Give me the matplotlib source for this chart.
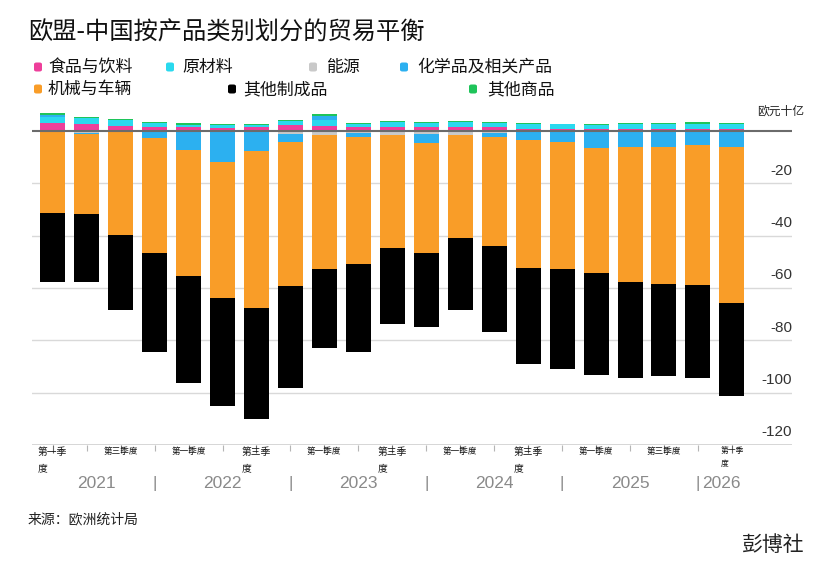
import matplotlib
matplotlib.use('Agg')
import matplotlib.pyplot as plt
from matplotlib.patches import FancyBboxPatch
import numpy as np

plt.rcParams['font.family'] = ['Noto Sans CJK SC', 'DejaVu Sans']

# ---------------- data (EUR bn) ----------------
quarters = ['2021Q1', '2021Q2', '2021Q3', '2021Q4',
            '2022Q1', '2022Q2', '2022Q3', '2022Q4',
            '2023Q1', '2023Q2', '2023Q3', '2023Q4',
            '2024Q1', '2024Q2', '2024Q3', '2024Q4',
            '2025Q1', '2025Q2', '2025Q3', '2025Q4',
            '2026Q1']
food = [3.0, 2.8, 1.8, 1.6, 1.4, 1.1, 1.6, 2.4, 2.0, 1.5, 1.5,
        1.5, 1.5, 1.5, 0.9, 0.8, 0.8, 0.8, 0.8, 0.8, 0.8]
raw_materials = [2.2, 2.2, 2.3, 1.5, 1.0, 1.0, 0.7, 1.3, 2.2, 1.3, 1.9,
                 1.5, 1.8, 1.5, 1.8, 1.7, 1.4, 1.7, 1.7, 1.9, 1.9]
energy = [0.0, -0.6, 0.0, -0.4, -0.3, 0.0, 0.0, -1.2, -1.6, -0.8, -1.4,
          -1.0, -1.4, -0.8, -0.3, 0.0, 0.0, 0.0, 0.0, 0.0, 0.0]
chemicals = [1.0, -0.7, 0.0, -2.3, -7.1, -12.0, -7.6, -3.0, 1.6, -1.7, 0.0,
             -3.7, 0.0, -1.7, -3.3, -4.2, -6.5, -6.1, -6.2, -5.2, -6.2]
machinery = [-31.2, -30.4, -39.7, -43.8, -48.1, -51.9, -60.2, -54.9, -51.1, -48.2, -43.4,
             -41.9, -39.6, -41.4, -48.8, -48.5, -47.6, -51.7, -52.3, -53.7, -59.7]
other_manufactured = [-26.4, -26.1, -28.7, -38.1, -40.9, -41.1, -42.2, -39.0, -30.1, -33.9, -29.1,
                      -28.2, -27.4, -32.8, -36.7, -38.1, -39.3, -36.5, -35.1, -35.4, -35.4]
other_commodities = [0.5, 0.4, 0.6, 0.4, 0.6, 0.6, 0.5, 0.3, 0.6, 0.4, 0.4,
                     0.6, 0.4, 0.3, 0.3, 0.2, 0.6, 0.4, 0.6, 0.6, 0.5]

series_names = ['食品与饮料', '原材料', '能源', '化学品及相关产品',
                '机械与车辆', '其他制成品', '其他商品']
series_values = [food, raw_materials, energy, chemicals,
                 machinery, other_manufactured, other_commodities]
colors = ['#ee3f9b', '#2ad9ee', '#c9c9c9', '#2cb0f0',
          '#f99d28', '#000000', '#1fc45a']

quarter_labels = {0: '第一季\n度', 2: '第三季度', 4: '第一季度', 6: '第三季\n度',
                  8: '第一季度', 10: '第三季\n度', 12: '第一季度', 14: '第三季\n度',
                  16: '第一季度', 18: '第三季度', 20: '第一季\n度'}
year_labels = ['2021', '2022', '2023', '2024', '2025', '2026']
year_label_pos = [1.3, 5.0, 9.0, 13.0, 17.0, 19.12]
year_separators = [3, 7, 11, 15, 19]
y_ticks = [-20, -40, -60, -80, -100, -120]

# ---------------- figure ----------------
W, H = 835, 575
fig = plt.figure(figsize=(W / 100, H / 100), dpi=100)
fig.patch.set_facecolor('white')

def fx(x):
    return x / W

def fy(y):
    return 1 - y / H

ax_left, ax_right, ax_top, ax_bottom = 32, 792, 107.4, 445
ax = fig.add_axes([fx(ax_left), fy(ax_bottom), (ax_right - ax_left) / W,
                   (ax_bottom - ax_top) / H])

x = np.arange(len(quarters))
pos_cum = np.zeros(len(quarters))
neg_cum = np.zeros(len(quarters))
for vals, col, name in zip(series_values, colors, series_names):
    v = np.array(vals, dtype=float)
    bottoms = np.where(v >= 0, pos_cum, neg_cum)
    ax.bar(x, v, bottom=bottoms, width=0.736, color=col, linewidth=0,
           zorder=2, label=name)
    pos_cum = pos_cum + np.where(v >= 0, v, 0)
    neg_cum = neg_cum + np.where(v < 0, v, 0)

ax.set_xlim(-0.61, 21.77)
ax.set_ylim(-120, 9)

for t in y_ticks[:-1]:
    ax.axhline(t, color='#d9d9d9', lw=1.0, zorder=1)
ax.axhline(-120, color='#d0d0d0', lw=1.2, zorder=1)
ax.axhline(0, color='#6b6b6b', lw=1.5, zorder=3)

for s in ax.spines.values():
    s.set_visible(False)
ax.set_yticks([])
ax.set_xticks(list(range(0, 21, 2)))
ax.set_xticks(list(range(1, 21, 2)), minor=True)
ax.set_xticklabels([])
ax.tick_params(axis='x', which='major', length=6, width=0.8, color='#666666')
ax.tick_params(axis='x', which='minor', length=4, width=0.8, color='#b5b5b5')

# y labels on the right, above gridlines
for t in y_ticks:
    ax.annotate(f'{t}', xy=(1.0, t), xycoords=('axes fraction', 'data'),
                xytext=(0, 9.2), textcoords='offset points', ha='right',
                va='center', fontsize=11, color='#333333',
                family=['Liberation Sans', 'DejaVu Sans'])

# quarter labels
for i, lab in quarter_labels.items():
    if '\n' in lab:
        fs = 5.6 if i == 20 else 7.0
    else:
        fs = 6.2
    ax.annotate(lab, xy=(i, 0), xycoords=('data', 'axes fraction'),
                xytext=(0, -1.6), textcoords='offset points', ha='center',
                va='top', fontsize=fs, color='#111111', multialignment='left',
                linespacing=1.75)

# year labels and separators
for lab, p in zip(year_labels, year_label_pos):
    ax.annotate(lab, xy=(p, 0), xycoords=('data', 'axes fraction'),
                xytext=(0, -27.5), textcoords='offset points',
                ha='left' if lab == '2026' else 'center', va='center',
                fontsize=12.5, color='#8a8a8a',
                family=['Liberation Sans', 'DejaVu Sans'])
for p in year_separators:
    ax.annotate('|', xy=(p, 0), xycoords=('data', 'axes fraction'),
                xytext=(0, -28), textcoords='offset points', ha='center',
                va='center', fontsize=12, color='#8a8a8a',
                family=['Liberation Sans', 'DejaVu Sans'])

# title
fig.text(fx(28), fy(33), '欧盟-中国按产品类别划分的贸易平衡', fontsize=17.5,
         color='#111111', ha='left', va='center')

# legend (manual)
legend_items = [
    (0, 34, 48, 67), (1, 166, 182, 67), (2, 309, 326, 67), (3, 400, 417, 67),
    (4, 34, 48, 89), (5, 228, 243, 89), (6, 469, 487, 89),
]
for idx, mx, tx, yy in legend_items:
    box = FancyBboxPatch((fx(mx), fy(yy + 4.5)), 8 / W, 9 / H,
                         boxstyle='round,pad=0,rounding_size=0.003',
                         transform=fig.transFigure, facecolor=colors[idx],
                         edgecolor='none')
    fig.patches.append(box)
    fig.text(fx(tx), fy(yy), series_names[idx], fontsize=12.2, color='#111111',
             ha='left', va='center')

# unit label
fig.text(fx(804), fy(111), '欧元十亿', fontsize=8.5, color='#222222',
         ha='right', va='center')

# footer
fig.text(fx(28), fy(519), '来源：欧洲统计局', fontsize=10, color='#222222',
         ha='left', va='center')
fig.text(fx(805), fy(545), '彭博社', fontsize=15, color='#222222',
         ha='right', va='center')

fig.savefig('out.png', dpi=100, facecolor='white')
